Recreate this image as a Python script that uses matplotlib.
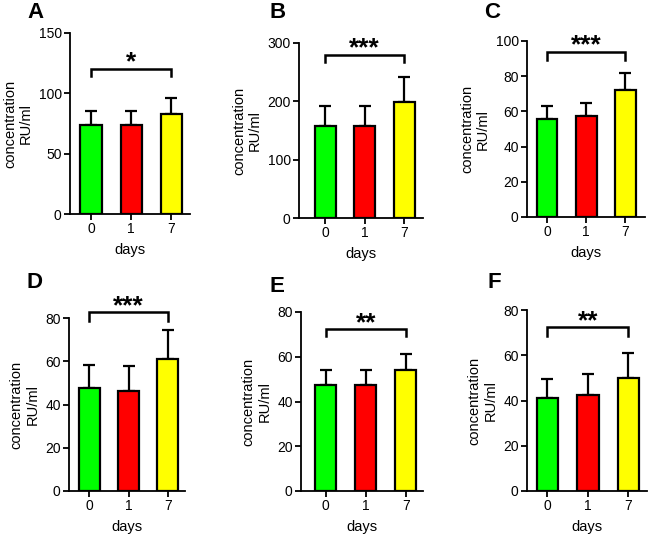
import matplotlib
matplotlib.use("Agg")
import matplotlib.pyplot as plt

plt.rcParams['font.family'] = ['Liberation Sans', 'DejaVu Sans']

W, H = 650, 536

days = ["0", "1", "7"]
colors = ["#00ff00", "#ff0000", "#ffff00"]

panel_letters = ["A", "B", "C", "D", "E", "F"]
means = {
    "A": [73.5, 73.5, 83.0],
    "B": [158, 158, 198],
    "C": [55.7, 57.4, 72.2],
    "D": [47.6, 46.3, 61.0],
    "E": [47.2, 47.3, 54.0],
    "F": [41.0, 42.4, 49.8],
}
sds = {
    "A": [12.0, 11.5, 13.0],
    "B": [34, 34, 43],
    "C": [7.4, 7.6, 9.8],
    "D": [10.8, 11.3, 13.6],
    "E": [7.1, 7.0, 7.4],
    "F": [8.5, 9.2, 11.0],
}
ymax = {"A": 150, "B": 300, "C": 100, "D": 80, "E": 80, "F": 80}
ystep = {"A": 50, "B": 100, "C": 20, "D": 20, "E": 20, "F": 20}
bracket_y = {"A": 120, "B": 280, "C": 94, "D": 82.6, "E": 72.2, "F": 72.3}
bracket_drop = {"A": 114, "B": 267, "C": 89, "D": 78.4, "E": 69.2, "F": 68.6}
stars = {"A": "*", "B": "***", "C": "***", "D": "***", "E": "**", "F": "**"}

# layout (pixels): left, right, top, bottom
boxes = {
    "A": (70, 190, 33, 214),
    "B": (299, 423, 43, 218),
    "C": (527, 645, 41, 217),
    "D": (69, 185, 318, 491),
    "E": (301, 423, 312, 491),
    "F": (527, 647, 310, 491),
}
xlims = {
    "A": (-0.52, 2.46),
    "B": (-0.66, 2.48),
    "C": (-0.51, 2.5),
    "D": (-0.52, 2.44),
    "E": (-0.62, 2.43),
    "F": (-0.5, 2.46),
}
letter_pos = {
    "A": (35, 12.5), "B": (278, 13), "C": (492, 13),
    "D": (34.5, 283), "E": (277, 286), "F": (494, 283),
}

fig = plt.figure(figsize=(W / 100, H / 100), dpi=100)

for p in panel_letters:
    l, r, t, b = boxes[p]
    ax = fig.add_axes([l / W, 1 - b / H, (r - l) / W, (b - t) / H])
    x = list(range(len(days)))
    ax.bar(x, means[p], width=0.53, color=colors, edgecolor="black",
           linewidth=1.6, zorder=3)
    ax.errorbar(x, means[p], yerr=[[0, 0, 0], sds[p]], fmt="none",
                ecolor="black", elinewidth=1.6, capsize=4.3, capthick=1.6,
                zorder=2)
    ax.set_xlim(*xlims[p])
    ax.set_ylim(0, ymax[p])
    ax.set_yticks(list(range(0, ymax[p] + 1, ystep[p])))
    ax.set_xticks(x)
    ax.set_xticklabels(days)
    for s in ["top", "right"]:
        ax.spines[s].set_visible(False)
    for s in ["left", "bottom"]:
        ax.spines[s].set_linewidth(1.3)
    ax.tick_params(axis="both", direction="out", length=4, width=1.3,
                   labelsize=10, pad=2)
    ax.set_xlabel("days", fontsize=10.5, labelpad=5)
    ax.set_ylabel("concentration\nRU/ml", fontsize=10.5, labelpad=4,
                  linespacing=1.15)
    # significance bracket
    yb, yd = bracket_y[p], bracket_drop[p]
    ax.plot([0, 0, 2, 2], [yd, yb, yb, yd], color="black", lw=1.8,
            clip_on=False, solid_joinstyle="miter")
    ax.annotate(stars[p], xy=(1, yb), xytext=(0, -4), textcoords="offset points",
                ha="center", va="bottom", fontsize=19, fontweight="bold",
                annotation_clip=False)
    lx, ly = letter_pos[p]
    fig.text(lx / W, 1 - ly / H, p, fontsize=16, fontweight="bold",
             ha="center", va="center")

fig.savefig("out.png", dpi=100)
